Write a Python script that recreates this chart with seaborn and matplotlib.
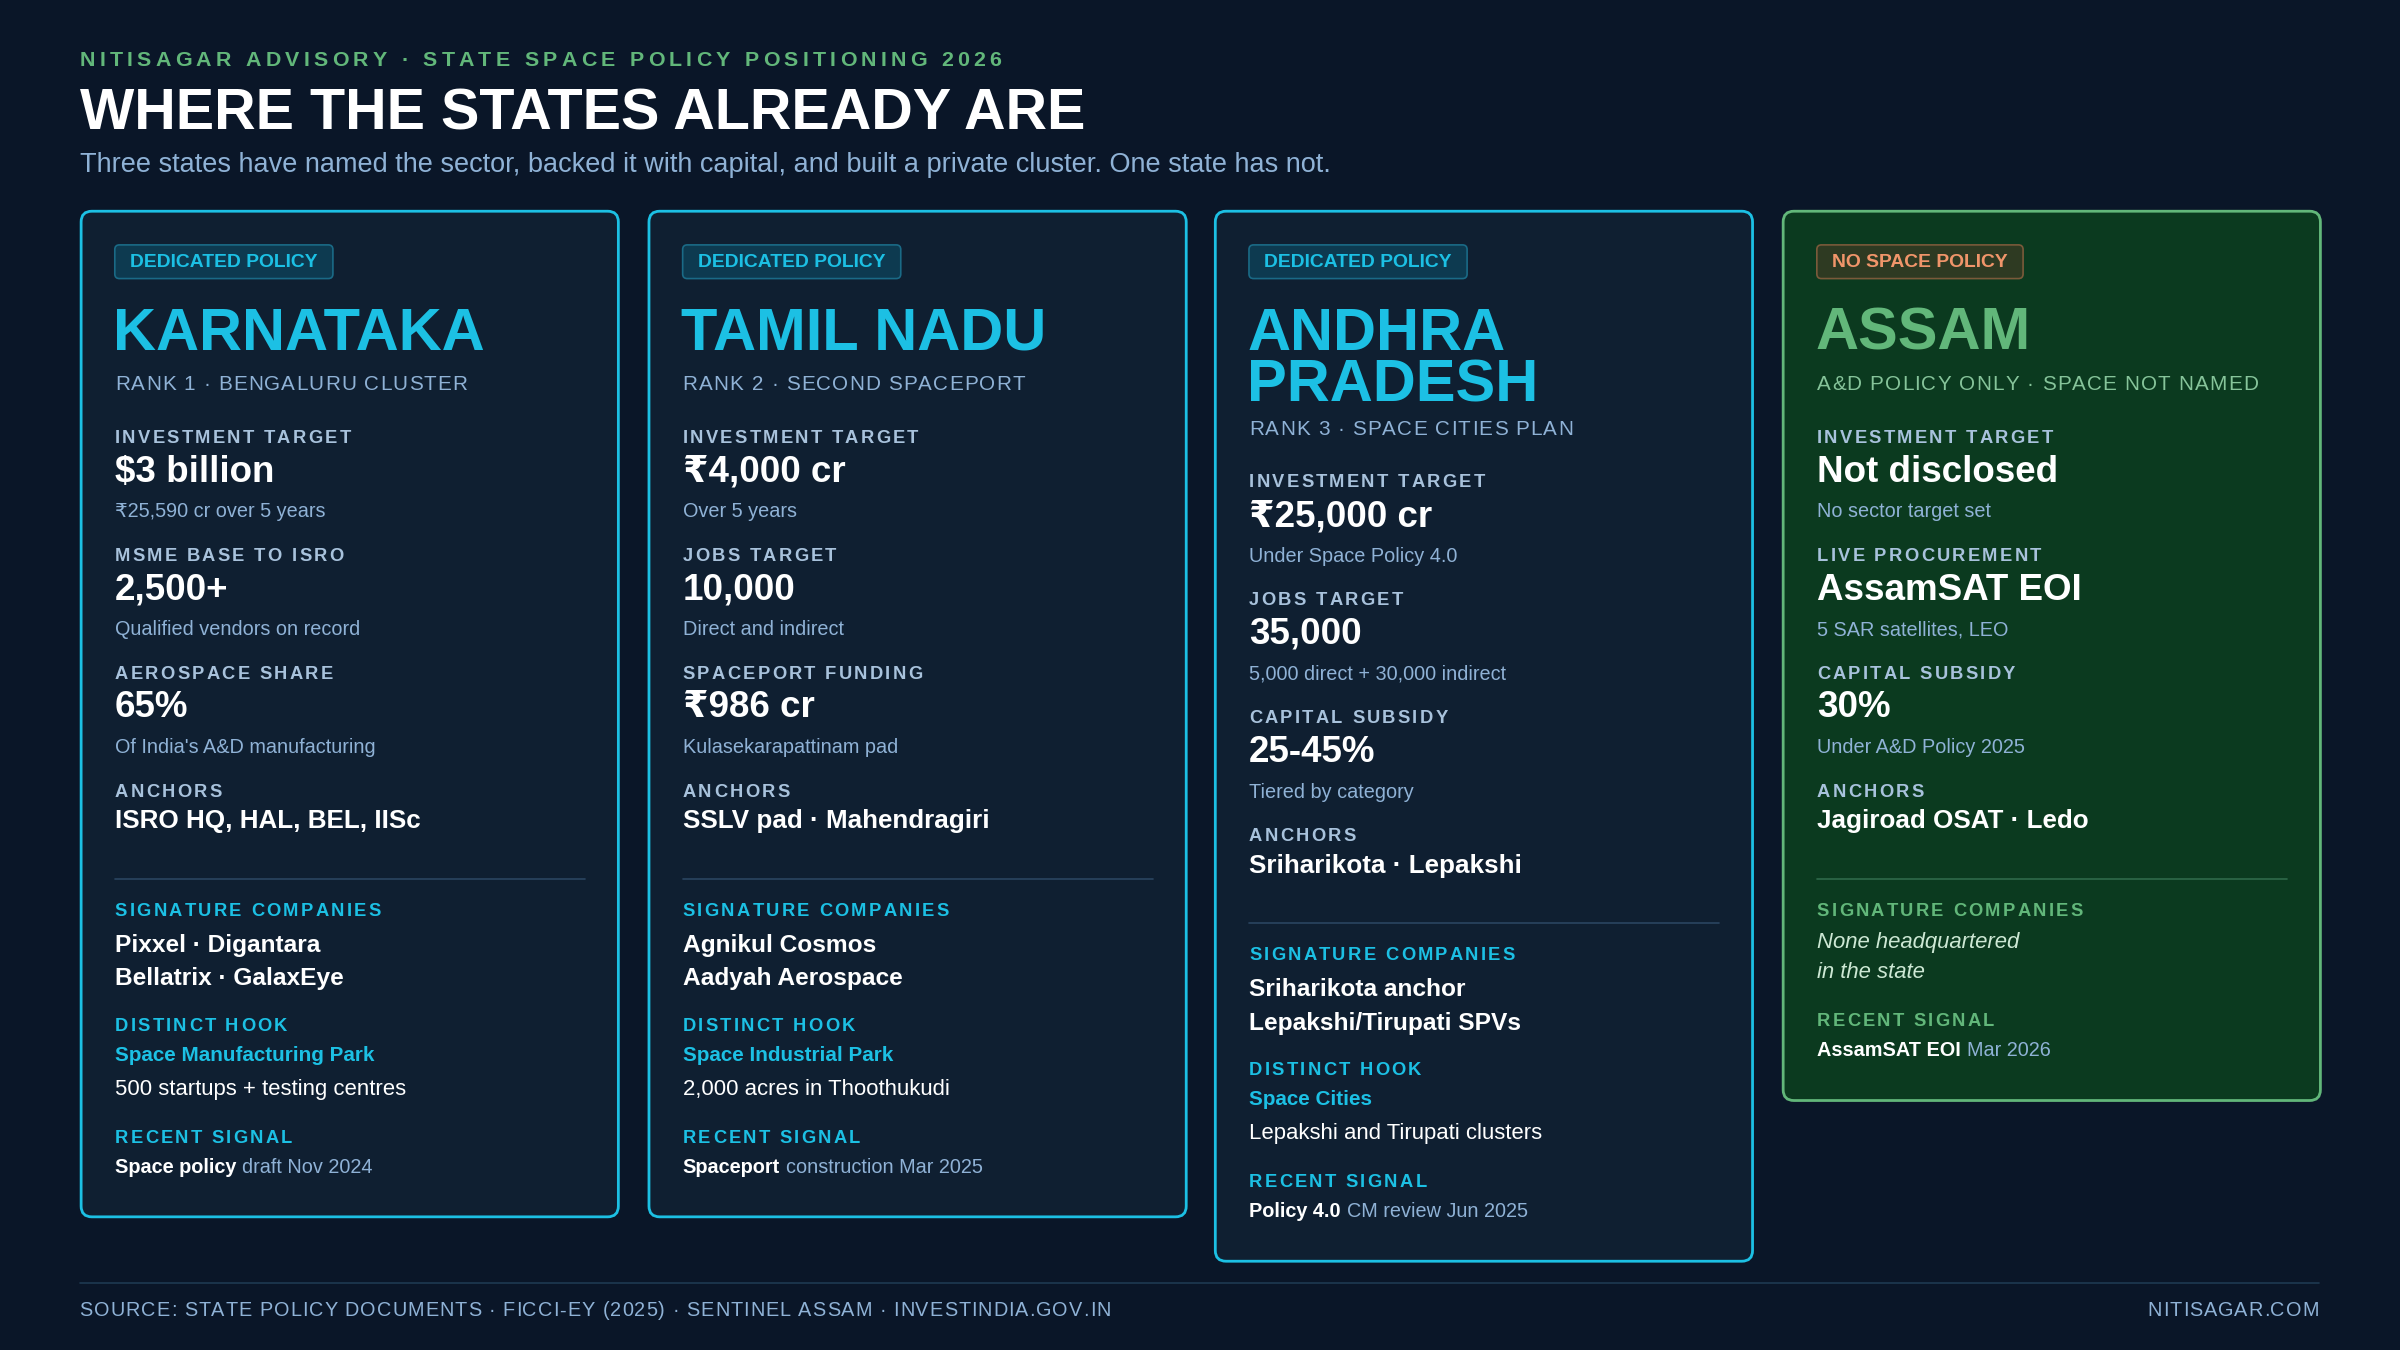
import matplotlib
matplotlib.use("Agg")
import matplotlib.pyplot as plt
from matplotlib.patches import FancyBboxPatch
from matplotlib.textpath import TextPath
from matplotlib.font_manager import FontProperties
import seaborn as sns

sns.set_theme(style="white")
plt.rcParams['font.family'] = ['Liberation Sans', 'DejaVu Sans']

# ---- data ----
eyebrow = "NITISAGAR ADVISORY · STATE SPACE POLICY POSITIONING 2026"
title = "WHERE THE STATES ALREADY ARE"
subtitle = "Three states have named the sector, backed it with capital, and built a private cluster. One state has not."
footer_left = "SOURCE: STATE POLICY DOCUMENTS · FICCI-EY (2025) · SENTINEL ASSAM · INVESTINDIA.GOV.IN"
footer_right = "NITISAGAR.COM"

states = ["KARNATAKA", "TAMIL NADU", "ANDHRA\nPRADESH", "ASSAM"]
badges = ["DEDICATED POLICY", "DEDICATED POLICY", "DEDICATED POLICY", "NO SPACE POLICY"]
ranks = ["RANK 1 · BENGALURU CLUSTER", "RANK 2 · SECOND SPACEPORT",
         "RANK 3 · SPACE CITIES PLAN", "A&D POLICY ONLY · SPACE NOT NAMED"]
metric_labels = [
    ["INVESTMENT TARGET", "MSME BASE TO ISRO", "AEROSPACE SHARE"],
    ["INVESTMENT TARGET", "JOBS TARGET", "SPACEPORT FUNDING"],
    ["INVESTMENT TARGET", "JOBS TARGET", "CAPITAL SUBSIDY"],
    ["INVESTMENT TARGET", "LIVE PROCUREMENT", "CAPITAL SUBSIDY"],
]
metric_values = [
    ["$3 billion", "2,500+", "65%"],
    ["₹4,000 cr", "10,000", "₹986 cr"],
    ["₹25,000 cr", "35,000", "25-45%"],
    ["Not disclosed", "AssamSAT EOI", "30%"],
]
metric_notes = [
    ["₹25,590 cr over 5 years", "Qualified vendors on record", "Of India's A&D manufacturing"],
    ["Over 5 years", "Direct and indirect", "Kulasekarapattinam pad"],
    ["Under Space Policy 4.0", "5,000 direct + 30,000 indirect", "Tiered by category"],
    ["No sector target set", "5 SAR satellites, LEO", "Under A&D Policy 2025"],
]
anchors = ["ISRO HQ, HAL, BEL, IISc", "SSLV pad · Mahendragiri",
           "Sriharikota · Lepakshi", "Jagiroad OSAT · Ledo"]
companies = [["Pixxel · Digantara", "Bellatrix · GalaxEye"],
             ["Agnikul Cosmos", "Aadyah Aerospace"],
             ["Sriharikota anchor", "Lepakshi/Tirupati SPVs"],
             ["None headquartered", "in the state"]]
hook_names = ["Space Manufacturing Park", "Space Industrial Park", "Space Cities", None]
hook_notes = ["500 startups + testing centres", "2,000 acres in Thoothukudi",
              "Lepakshi and Tirupati clusters", None]
signal_bold = ["Space policy", "Spaceport", "Policy 4.0", "AssamSAT EOI"]
signal_rest = ["draft Nov 2024", "construction Mar 2025", "CM review Jun 2025", "Mar 2026"]

# ---- style ----
BG = "#0a1628"
CARD = "#0f1f31"
CYAN = "#1cc0e4"
GREEN = "#62b77a"
GREEN_BG = "#0b3a1f"
MUTED = "#8fb2d6"
LABEL = "#a8c2dc"
WHITE = "#ffffff"
S = 1.102  # display px -> pt
DY = 1.5   # vertical nudge for text

fig = plt.figure(figsize=(24, 13.5), dpi=100, facecolor=BG)
ax = fig.add_axes([0, 0, 1, 1])
ax.set_xlim(0, 1568)
ax.set_ylim(882, 0)
ax.axis("off")
ax.set_facecolor(BG)
fig.canvas.draw()
renderer = fig.canvas.get_renderer()


def txt(x, y, s, px, color, **kw):
    return ax.text(x, y + DY, s, fontsize=px * S, color=color, va="center", **kw)


def spaced(x, y, s, px, color, spacing, weight="normal", ha="left"):
    fp = FontProperties(family="Liberation Sans", weight=weight, size=px * S)
    widths = []
    for ch in s:
        if ch == " ":
            w = TextPath((0, 0), "a a", prop=fp).get_extents().width - TextPath((0, 0), "aa", prop=fp).get_extents().width
        else:
            w = TextPath((0, 0), "|" + ch + "|", prop=fp).get_extents().width - TextPath((0, 0), "||", prop=fp).get_extents().width
        widths.append(w * 1568 / 2400 * 100 / 72 + spacing)
    total = sum(widths) - spacing
    cx = x - total if ha == "right" else x
    for ch, w in zip(s, widths):
        txt(cx, y, ch, px, color, fontweight=weight, ha="left")
        cx += w


def text_width(t):
    bb = t.get_window_extent(renderer=renderer)
    return bb.width * 1568 / 2400


# header
spaced(52, 38, eyebrow, 14, GREEN, 2.75, weight="bold")
txt(52, 73, title, 37.6, WHITE, fontweight="bold")
txt(52, 106, subtitle, 17.7, MUTED)

card_x = [53, 424, 794, 1165]
card_w = 351
card_bottom = [795, 795, 824, 719]
top = 138

for i, name in enumerate(states):
    assam = i == 3
    x0 = card_x[i]
    edge = GREEN if assam else CYAN
    face = GREEN_BG if assam else CARD
    ax.add_patch(FancyBboxPatch((x0, top), card_w, card_bottom[i] - top,
                                boxstyle="round,pad=0,rounding_size=7",
                                fc=face, ec=edge, lw=2))
    lx = x0 + 22
    # badge
    bt = txt(lx + 10, 170, badges[i], 12.6, "#f0956a" if assam else CYAN, fontweight="bold")
    bw = text_width(bt) + 20
    ax.add_patch(FancyBboxPatch((lx, 160), bw, 22, boxstyle="round,pad=0,rounding_size=3",
                                fc="#2e3a22" if assam else "#0d3a50",
                                ec="#7a5a3a" if assam else "#1a6a86", lw=1.2))
    # name
    lines = name.split("\n")
    y = 217
    for ln in lines:
        txt(lx - 1, y, ln, 39, GREEN if assam else CYAN, fontweight="bold")
        y += 34
    off = 29 * (len(lines) - 1)
    spaced(lx, 250 + off, ranks[i], 13.5, "#86c49a" if assam else MUTED, 0.75)
    # metrics
    y = 285 + off
    for lab, val, note in zip(metric_labels[i], metric_values[i], metric_notes[i]):
        spaced(lx, y, lab, 12, LABEL, 1.5, weight="bold")
        txt(lx, y + 22, val, 24, WHITE, fontweight="bold")
        txt(lx, y + 48, note, 13, MUTED)
        y += 77
    spaced(lx, y, "ANCHORS", 12, LABEL, 1.5, weight="bold")
    txt(lx, y + 19, anchors[i], 17, WHITE, fontweight="bold")
    y += 58
    ax.plot([lx, x0 + card_w - 22], [y, y], color="#2f6a4a" if assam else "#2a4560", lw=1.2)
    y += 20
    spaced(lx, y, "SIGNATURE COMPANIES", 12, GREEN if assam else CYAN, 1.5, weight="bold")
    if assam:
        for k, c in enumerate(companies[i]):
            txt(lx, y + 20 + 20 * k, c, 14.5, "#cde8d4", style="italic")
        y += 72
    else:
        for k, c in enumerate(companies[i]):
            txt(lx, y + 22 + 22 * k, c, 16, WHITE, fontweight="bold")
        y += 75
        spaced(lx, y, "DISTINCT HOOK", 12, CYAN, 1.5, weight="bold")
        txt(lx, y + 19, hook_names[i], 13.5, CYAN, fontweight="bold")
        txt(lx, y + 41, hook_notes[i], 14.5, WHITE)
        y += 73
    spaced(lx, y, "RECENT SIGNAL", 12, GREEN if assam else CYAN, 1.5, weight="bold")
    bt = txt(lx, y + 19, signal_bold[i], 13, WHITE, fontweight="bold")
    txt(lx + text_width(bt) + 4, y + 19, signal_rest[i], 13, MUTED)

# footer
ax.plot([52, 1515], [838, 838], color="#1e3a52", lw=1.2)
spaced(52, 855, footer_left, 13, MUTED, 0.65)
spaced(1515, 855, footer_right, 13, MUTED, 0.65, ha="right")

fig.savefig("out.png", dpi=100, facecolor=BG)
